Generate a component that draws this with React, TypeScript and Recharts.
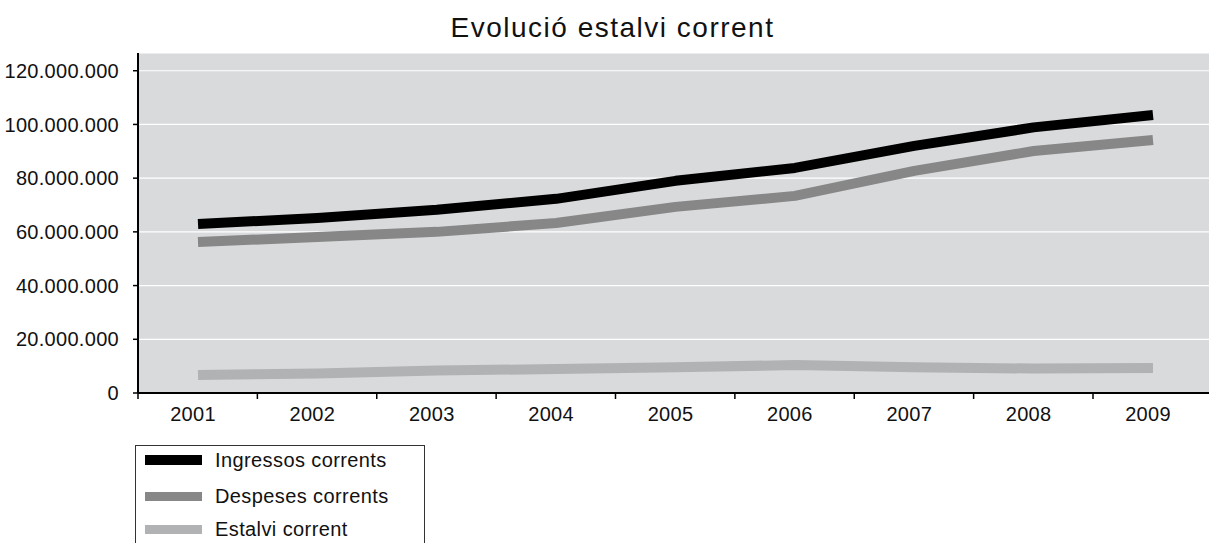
import { LineChart, Line, XAxis, YAxis, CartesianGrid } from 'recharts';

const years = ['2001', '2002', '2003', '2004', '2005', '2006', '2007', '2008', '2009'];
const ingressos = [62900000, 65200000, 68200000, 72300000, 79000000, 83800000, 92000000, 98900000, 103500000];
const despeses = [56200000, 58100000, 60000000, 63300000, 69300000, 73400000, 82700000, 90100000, 94200000];
const estalvi = [6700000, 7300000, 8400000, 8900000, 9600000, 10400000, 9600000, 9100000, 9300000];
const yTicks = [0, 20000000, 40000000, 60000000, 80000000, 100000000, 120000000];

const seriesNames = ['Ingressos corrents', 'Despeses corrents', 'Estalvi corrent'];
const seriesColors = ['#000000', '#878787', '#b1b2b4'];
const seriesKeys = ['ingressos', 'despeses', 'estalvi'];

const data = years.map((y, i) => ({
  year: y,
  ingressos: ingressos[i],
  despeses: despeses[i],
  estalvi: estalvi[i],
}));

const FONT = '"Liberation Sans", Arial, Helvetica, sans-serif';

function fmt(v: number) {
  return String(v).replace(/\B(?=(\d{3})+(?!\d))/g, '.');
}

// labels sit at the point, tick marks sit on the category boundary to the left
function YearTick(props: any) {
  const { x, y, payload } = props;
  const axisY = y - 14;
  return (
    <g>
      <line x1={x - 60} x2={x - 60} y1={axisY} y2={axisY + 6} stroke="#000" strokeWidth={1.5} />
      <text x={x - 5} y={y} dy="0.71em" textAnchor="middle" fontSize={20} fill="#111" fontFamily={FONT} letterSpacing={0.3}>
        {payload.value}
      </text>
    </g>
  );
}

export default function App() {
  return (
    <div style={{ position: 'absolute', left: 0, top: 0, width: 1209, height: 543, overflow: 'hidden', background: '#fff', fontFamily: FONT }}>
      <div
        style={{
          position: 'absolute', left: 0, top: 13, width: 1225, textAlign: 'center',
          fontSize: 28, lineHeight: '30px', color: '#111', letterSpacing: 1.5,
        }}
      >
        Evolució estalvi corrent
      </div>

      <div style={{ position: 'absolute', left: 0, top: 0 }}>
        <LineChart width={1230} height={543} data={data} margin={{ top: 53, right: 17, bottom: 110, left: 0 }}>
          <CartesianGrid fill="#d9dadc" stroke="#ffffff" strokeWidth={1.2} vertical={false} />
          <XAxis
            dataKey="year"
            height={40}
            padding={{ left: 60, right: 60 }}
            axisLine={{ stroke: '#000', strokeWidth: 2 }}
            tickLine={false}
            tickSize={6}
            tickMargin={8}
            tick={<YearTick />}
            interval={0}
          />
          <YAxis
            width={138}
            domain={[0, 126600000]}
            ticks={yTicks}
            tickFormatter={fmt}
            axisLine={{ stroke: '#000', strokeWidth: 2 }}
            tickLine={{ stroke: '#000', strokeWidth: 1.5 }}
            tickSize={5}
            tickMargin={14}
            tick={{ fontSize: 20, fill: '#111', fontFamily: FONT, letterSpacing: 0.3 }}
          />
          {seriesKeys.map((k, i) => (
            <Line
              key={k}
              type="linear"
              dataKey={k}
              stroke={seriesColors[i]}
              strokeWidth={10}
              strokeLinejoin="round"
              dot={false}
              activeDot={false}
              isAnimationActive={false}
            />
          ))}
        </LineChart>
      </div>

      <div
        style={{
          position: 'absolute', left: 135, top: 445, width: 290, height: 130,
          border: '1.5px solid #333', boxSizing: 'border-box', background: '#fff',
        }}
      >
        {seriesNames.map((name, i) => (
          <div key={name} style={{ position: 'absolute', left: 0, top: [3, 39, 72][i], height: 22, display: 'flex', alignItems: 'center' }}>
            <div style={{ marginLeft: 9, width: 57, height: i === 0 ? 10 : 9, background: seriesColors[i] }} />
            <div style={{ marginLeft: 13, fontSize: 20, color: '#111', letterSpacing: 0.4, whiteSpace: 'nowrap' }}>{name}</div>
          </div>
        ))}
      </div>
    </div>
  );
}
